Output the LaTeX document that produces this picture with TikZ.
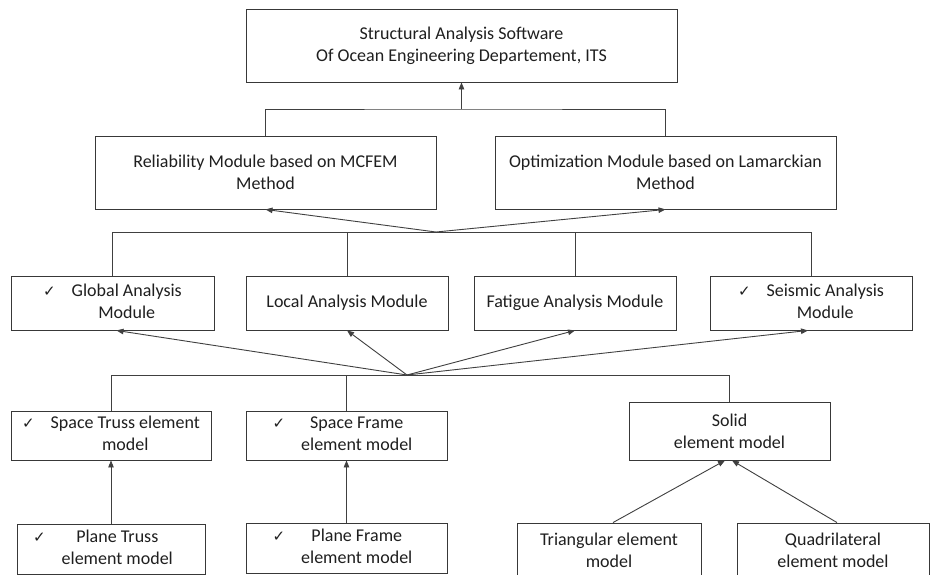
\documentclass[tikz,border=0pt]{standalone}
\usepackage{fontspec}
\setmainfont{Carlito}
\newfontfamily\ckfont{DejaVu Sans}
\usetikzlibrary{arrows.meta}
\newcommand{\ckl}[2][16pt]{{\ckfont\fontsize{15}{16}\selectfont ✓}\hspace{#1}\begin{tabular}[t]{@{}c@{}}#2\end{tabular}}
\tikzset{
  box/.style={draw=black!78, line width=0.9pt, inner sep=0pt, align=center,
    text=black!88, font=\fontsize{18}{22}\selectfont},
  conn/.style={draw=black!75, line width=0.9pt},
  arr/.style={conn, -{Triangle[length=7pt,width=5.5pt]}},
}
\begin{document}
\begin{tikzpicture}[x=1pt,y=-1pt]
\useasboundingbox (0,0) rectangle (930,574);
\clip (0,0) rectangle (930,574);
\fill[white] (0,0) rectangle (930,574);
% row 1
\node[box, minimum width=431pt, minimum height=73pt] (top) at (461.5,45.5)
  {Structural Analysis Software\\Of Ocean Engineering Departement, ITS};
% row 2
\node[box, minimum width=341pt, minimum height=73pt] (rel) at (265.5,172.5)
  {Reliability Module based on MCFEM\\Method};
\node[box, minimum width=341pt, minimum height=73pt] (opt) at (665.5,172.5)
  {Optimization Module based on Lamarckian\\Method};
% row 3
\node[box, minimum width=203pt, minimum height=54pt] (glob) at (112.5,303)
  {\ckl{Global Analysis\\Module}};
\node[box, minimum width=202pt, minimum height=54pt] (loc) at (347,303)
  {Local Analysis Module};
\node[box, minimum width=202pt, minimum height=54pt] (fat) at (575,303)
  {Fatigue Analysis Module};
\node[box, minimum width=202pt, minimum height=54pt] (seis) at (811,303)
  {\ckl{Seismic Analysis\\Module}};
% row 4
\node[box, minimum width=200pt, minimum height=49pt] (st) at (111,435.5)
  {\ckl{Space Truss element\\model}};
\node[box, minimum width=201pt, minimum height=49pt] (sf) at (346.5,435.5)
  {\ckl{Space Frame\\element model}\hspace{8pt}};
\node[box, minimum width=201pt, minimum height=58pt] (sol) at (729.5,431)
  {Solid\\element model};
% row 5
\node[box, minimum width=188pt, minimum height=50pt] (pt) at (111,549)
  {\ckl{Plane Truss\\element model}\hspace{16pt}};
\node[box, minimum width=201pt, minimum height=50pt] (pf) at (346.5,548)
  {\ckl{Plane Frame\\element model}\hspace{8pt}};
\node[box, minimum width=184pt, minimum height=55pt] (tri) at (609,550.5)
  {Triangular element\\model};
\node[box, minimum width=192pt, minimum height=55pt] (quad) at (833,550.5)
  {Quadrilateral\\element model};
% junctions
\coordinate (j1) at (461.5,109);
\coordinate (j2) at (436,232);
\coordinate (j3) at (407,375);
% top level
\draw[conn] (rel.north) |- (j1) -| (opt.north);
\draw[arr] (j1) -- (top.south);
% second level
\draw[arr] (j2) -- (rel.south);
\draw[arr] (j2) -- (opt.south);
\draw[conn] (glob.north) -- (glob.north |- j2) -- (seis.north |- j2) -- (seis.north);
\draw[conn] (loc.north) -- (loc.north |- j2);
\draw[conn] (fat.north) -- (fat.north |- j2);
% third level
\draw[arr] (j3) -- ([xshift=4pt]glob.south);
\draw[arr] (j3) -- (loc.south);
\draw[arr] (j3) -- (fat.south);
\draw[arr] (j3) -- ([xshift=-3pt]seis.south);
\draw[conn] (st.north) -- (st.north |- j3) -- (sol.north |- j3) -- (sol.north);
\draw[conn] (sf.north) -- (sf.north |- j3);
% fourth level
\draw[arr] (pt.north) -- (st.south);
\draw[arr] (pf.north) -- (sf.south);
\draw[arr] ([xshift=4pt]tri.north) -- ([xshift=-4.5pt]sol.south);
\draw[arr] ([xshift=4pt]quad.north) -- ([xshift=2.5pt]sol.south);
\end{tikzpicture}
\end{document}
